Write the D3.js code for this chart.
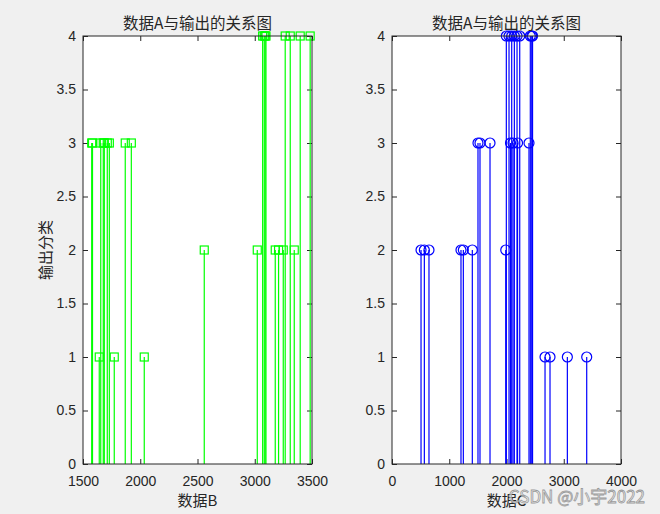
<!DOCTYPE html>
<html>
<head>
<meta charset="utf-8">
<script src="https://cdn.jsdelivr.net/npm/d3@7"></script>
<style>
  body { margin: 0; background: #f0f0f0; }
  svg { display: block; }
  .tick text { font-family: "Liberation Sans", Arial, sans-serif; font-size: 14px; fill: #262626; }
  .cjk { font-family: "Noto Sans CJK SC", sans-serif; fill: #262626; }
</style>
</head>
<body>
<div id="chart"></div>
<script>
// 左图：数据B vs 输出分类
const leftX = [1576, 1583, 1655, 1677, 1686, 1712, 1730, 1869, 1922,
               1642, 1773, 2035,
               2559, 3022, 3179, 3208, 3249, 3345,
               3069, 3083, 3091, 3098, 3266, 3310, 3397, 3484];
const leftY = [3, 3, 3, 3, 3, 3, 3, 3, 3,
               1, 1, 1,
               2, 2, 2, 2, 2, 2,
               4, 4, 4, 4, 4, 4, 4, 4];
// 右图：数据C vs 输出分类
const rightX = [507, 565, 646, 1205, 1246, 1403, 1987,
                1502, 1537, 1712, 2070, 2114, 2193, 2393,
                1997, 2044, 2091, 2137, 2184, 2231, 2416, 2441, 2455,
                2673, 2760, 3063, 3401];
const rightY = [2, 2, 2, 2, 2, 2, 2,
                3, 3, 3, 3, 3, 3, 3,
                4, 4, 4, 4, 4, 4, 4, 4, 4,
                1, 1, 1, 1];
const leftTicks = [1500, 2000, 2500, 3000, 3500];
const rightTicks = [0, 1000, 2000, 3000, 4000];
const yTicks = [0, 0.5, 1, 1.5, 2, 2.5, 3, 3.5, 4];

const W = 660, H = 514;
const svg = d3.select("#chart").append("svg")
  .attr("width", W).attr("height", H);

function drawPanel(opt) {
  const x = d3.scaleLinear().domain(opt.xDomain).range([opt.left, opt.right]);
  const y = d3.scaleLinear().domain([0, 4]).range([464, 36]);
  const g = svg.append("g");

  g.append("rect")
    .attr("x", opt.left).attr("y", 36)
    .attr("width", opt.right - opt.left).attr("height", 428)
    .attr("fill", "#fff");

  // 坐标轴（刻度朝内，四边都有）
  const axisStyle = sel => {
    sel.select(".domain").remove();
    sel.selectAll(".tick line").attr("stroke", "#262626");
  };
  g.append("g").attr("transform", "translate(0,464)")
    .call(d3.axisBottom(x).tickValues(opt.ticks).tickSizeInner(-5).tickPadding(12).tickFormat(d3.format("d")))
    .call(axisStyle);
  g.append("g").attr("transform", "translate(0,36)")
    .call(d3.axisTop(x).tickValues(opt.ticks).tickSizeInner(-5).tickFormat(""))
    .call(axisStyle);
  g.append("g").attr("transform", `translate(${opt.left},0)`)
    .call(d3.axisLeft(y).tickValues(yTicks).tickSizeInner(-5).tickPadding(7).tickFormat(d => d))
    .call(axisStyle);
  g.append("g").attr("transform", `translate(${opt.right},0)`)
    .call(d3.axisRight(y).tickValues(yTicks).tickSizeInner(-5).tickFormat(""))
    .call(axisStyle);
  g.selectAll(".tick text").attr("fill", "#262626").style("font-size", "14px");

  const pts = opt.xs.map((v, i) => ({ x: v, y: opt.ys[i] }));

  // 茎线
  g.selectAll(".stem").data(pts).enter().append("line")
    .attr("x1", d => x(d.x)).attr("x2", d => x(d.x))
    .attr("y1", y(0)).attr("y2", d => y(d.y))
    .attr("stroke", opt.color).attr("stroke-width", 1.2);

  // 标记
  if (opt.marker === "square") {
    g.selectAll(".mk").data(pts).enter().append("rect")
      .attr("x", d => x(d.x) - 4).attr("y", d => y(d.y) - 4)
      .attr("width", 8).attr("height", 8)
      .attr("fill", "none").attr("stroke", opt.color).attr("stroke-width", 1.2);
  } else {
    g.selectAll(".mk").data(pts).enter().append("circle")
      .attr("cx", d => x(d.x)).attr("cy", d => y(d.y)).attr("r", 5)
      .attr("fill", "none").attr("stroke", opt.color).attr("stroke-width", 1.2);
  }

  g.append("rect")
    .attr("x", opt.left).attr("y", 36)
    .attr("width", opt.right - opt.left).attr("height", 428)
    .attr("fill", "none").attr("stroke", "#262626").attr("stroke-width", 1);

  const cx = (opt.left + opt.right) / 2;
  g.append("text").attr("class", "cjk")
    .attr("x", cx).attr("y", 29).attr("text-anchor", "middle")
    .style("font-size", "15.5px").text("数据A与输出的关系图");
  g.append("text").attr("class", "cjk")
    .attr("x", cx).attr("y", 506).attr("text-anchor", "middle")
    .style("font-size", "15px").text(opt.xlabel);
}

drawPanel({ left: 83, right: 312, xDomain: [1500, 3500], ticks: leftTicks,
  xs: leftX, ys: leftY, color: "#00ff00", marker: "square", xlabel: "数据B" });
drawPanel({ left: 392, right: 621, xDomain: [0, 4000], ticks: rightTicks,
  xs: rightX, ys: rightY, color: "#0000ff", marker: "circle", xlabel: "数据C" });

svg.append("text").attr("class", "cjk")
  .attr("transform", "translate(51,250) rotate(-90)")
  .attr("text-anchor", "middle").style("font-size", "15px").text("输出分类");

// 水印
svg.append("text")
  .attr("x", 645).attr("y", 503).attr("text-anchor", "end")
  .style("font-family", "'Noto Sans CJK SC', sans-serif").style("font-size", "17px")
  .attr("fill", "#ffffff").attr("fill-opacity", 0.6)
  .attr("stroke", "#9a9a9a").attr("stroke-width", 0.8)
  .text("CSDN @小宇2022");
</script>
</body>
</html>
